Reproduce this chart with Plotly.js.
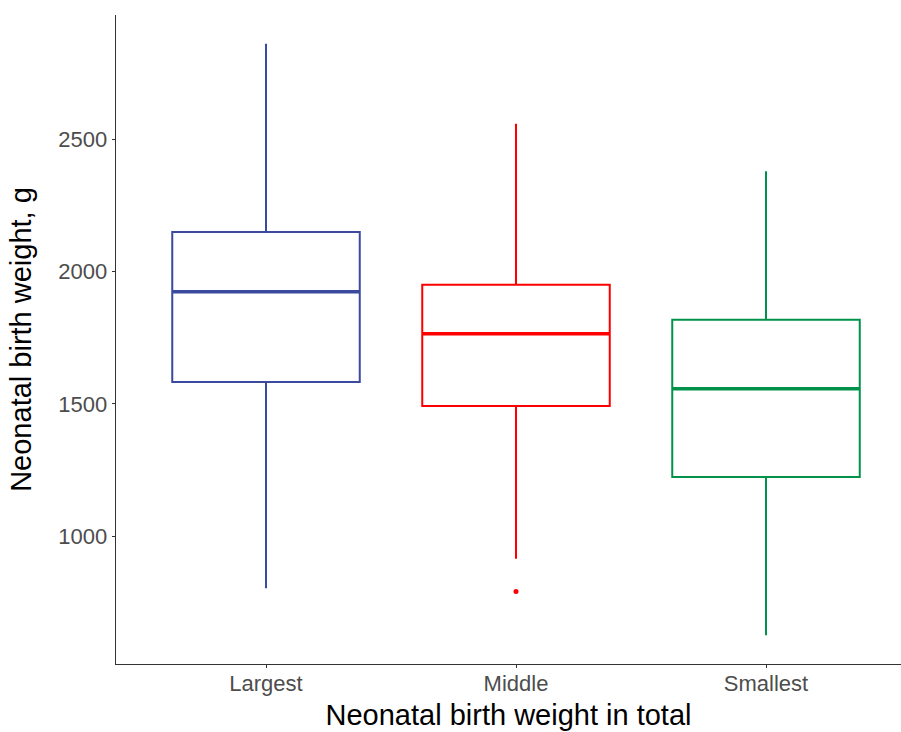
<!DOCTYPE html>
<html>
<head>
<meta charset="utf-8">
<script src="https://cdn.plot.ly/plotly-3.0.1.min.js"></script>
<style>html,body{margin:0;padding:0;background:#fff;}#chart{width:901px;height:732px;}</style>
</head>
<body>
<div id="chart"></div>
<script>
var categories = ["Largest", "Middle", "Smallest"];
var colors = ["#3A4A9E", "#FF0000", "#00924A"];
var lowerWhisker = [803, 914, 625];
var q1Values = [1583, 1492, 1223];
var medianValues = [1924, 1765, 1557];
var q3Values = [2150, 1951, 1818];
var upperWhisker = [2862, 2560, 2380];
var outlierCategory = [1];
var outlierValues = [790];

var traces = [];
categories.forEach(function (c, i) {
  traces.push({
    type: "box",
    x: [i],
    q1: [q1Values[i]],
    median: [medianValues[i]],
    q3: [q3Values[i]],
    lowerfence: [lowerWhisker[i]],
    upperfence: [upperWhisker[i]],
    width: 0.75,
    whiskerwidth: 0,
    fillcolor: "rgba(255,255,255,0)",
    line: {color: colors[i], width: 2},
    boxpoints: false,
    name: c,
    hoverinfo: "skip"
  });
  traces.push({
    type: "scatter",
    mode: "lines",
    x: [i - 0.375, i + 0.375],
    y: [medianValues[i], medianValues[i]],
    line: {color: colors[i], width: 3.5},
    hoverinfo: "skip"
  });
});
traces.push({
  type: "scatter",
  mode: "markers",
  x: outlierCategory,
  y: outlierValues,
  marker: {color: colors[1], size: 5},
  hoverinfo: "skip"
});

var layout = {
  width: 901, height: 732,
  margin: {l: 116, r: 0, t: 15, b: 68},
  paper_bgcolor: "#fff", plot_bgcolor: "#fff",
  showlegend: false,
  font: {family: "Liberation Sans, Arial, sans-serif"},
  xaxis: {
    range: [-0.6, 2.54],
    tickvals: [0, 1, 2],
    ticktext: categories,
    showgrid: false, zeroline: false,
    showline: true, linecolor: "#333", linewidth: 1.3,
    ticks: "outside", ticklen: 3, tickcolor: "#333", tickwidth: 1,
    ticklabelstandoff: -4,
    tickfont: {size: 22, color: "#4D4D4D"},
    title: {text: "Neonatal birth weight in total", font: {size: 29, color: "#000"}, standoff: 10}
  },
  yaxis: {
    range: [516, 2971],
    tickvals: [1000, 1500, 2000, 2500],
    showgrid: false, zeroline: false,
    showline: true, linecolor: "#333", linewidth: 1.3,
    ticks: "outside", ticklen: 3, tickcolor: "#333", tickwidth: 1,
    tickfont: {size: 22, color: "#4D4D4D"},
    title: {text: "Neonatal birth weight, g", font: {size: 29, color: "#000"}, standoff: 18}
  }
};

Plotly.newPlot("chart", traces, layout, {displayModeBar: false, staticPlot: true});
</script>
</body>
</html>
